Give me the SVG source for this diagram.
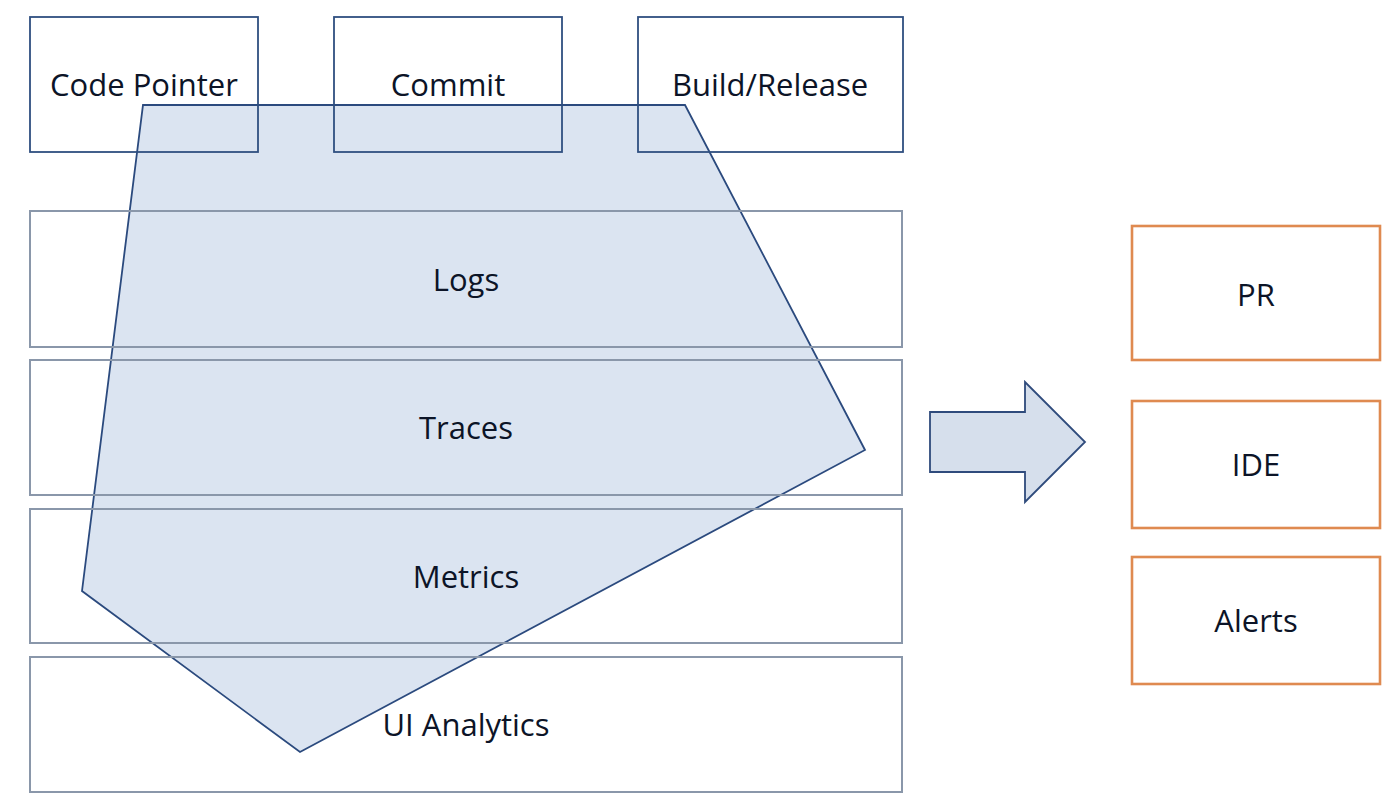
<svg xmlns="http://www.w3.org/2000/svg" width="1400" height="809" viewBox="0 0 1400 809">
<style>
.top{fill:none;stroke:#2f4f80;stroke-width:1.8}
.row{fill:none;stroke:#8a97aa;stroke-width:2}
.out{fill:none;stroke:#df8a50;stroke-width:2.6}
.t{font-family:"Open Sans","Liberation Sans",sans-serif;font-size:31px;fill:#0c1427;text-anchor:middle}
</style>
<rect width="1400" height="809" fill="#fff"/>
<g id="scope"><polygon points="143,105 685,105 865,450 300,752 82,591" fill="#dbe4f1" stroke="#2b4a7e" stroke-width="1.8"/></g>
<g id="code-pointer"><rect class="top" x="30" y="17" width="228" height="135"/><text class="t" x="144" y="96">Code Pointer</text></g>
<g id="commit"><rect class="top" x="334" y="17" width="228" height="135"/><text class="t" x="448" y="96">Commit</text></g>
<g id="build-release"><rect class="top" x="638" y="17" width="265" height="135"/><text class="t" x="770" y="96">Build/Release</text></g>
<g id="logs"><rect class="row" x="30" y="211" width="872" height="136"/><text class="t" x="466" y="291">Logs</text></g>
<g id="traces"><rect class="row" x="30" y="360" width="872" height="135"/><text class="t" x="466" y="439">Traces</text></g>
<g id="metrics"><rect class="row" x="30" y="509" width="872" height="134"/><text class="t" x="466" y="588">Metrics</text></g>
<g id="ui-analytics"><rect class="row" x="30" y="657" width="872" height="135"/><text class="t" x="466" y="736">UI Analytics</text></g>
<g id="connectors"><polygon points="930,412 1025,412 1025,382 1085,442 1025,502 1025,472 930,472" fill="#d6dfec" stroke="#2f4b7c" stroke-width="1.8"/></g>
<g id="pr"><rect class="out" x="1132" y="226" width="248" height="134"/><text class="t" x="1256" y="306">PR</text></g>
<g id="ide"><rect class="out" x="1132" y="401" width="248" height="127"/><text class="t" x="1256" y="476">IDE</text></g>
<g id="alerts"><rect class="out" x="1132" y="557" width="248" height="127"/><text class="t" x="1256" y="632">Alerts</text></g>
</svg>
